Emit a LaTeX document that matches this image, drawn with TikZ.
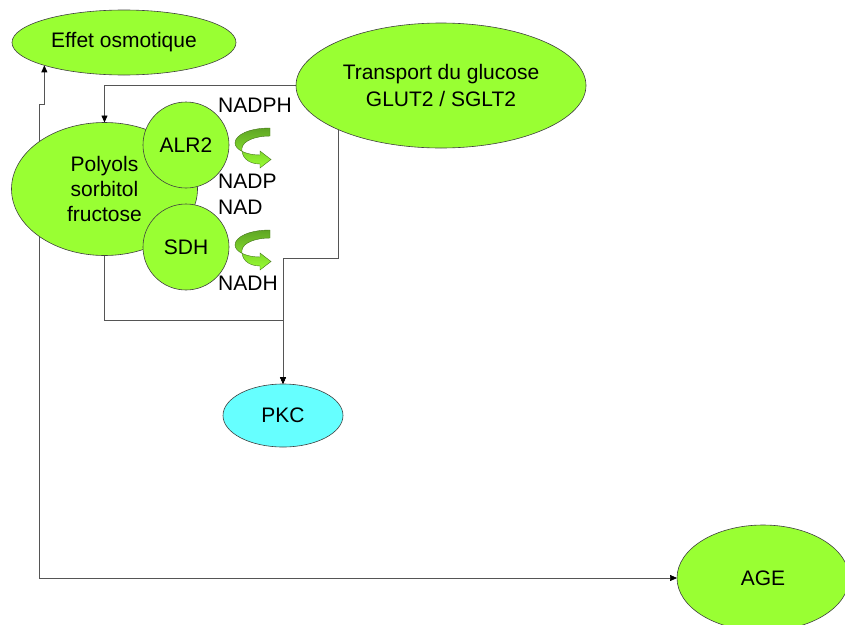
\documentclass[tikz,border=0pt]{standalone}
\usepackage{fontspec}
\setmainfont{Liberation Sans}
\usetikzlibrary{arrows.meta,shapes.geometric,backgrounds}
\definecolor{lime}{HTML}{99FF33}
\definecolor{cyanf}{HTML}{66FFFF}
\definecolor{linec}{HTML}{555555}
\definecolor{darkg}{HTML}{5FA524}
\newcommand\diagfont{\fontsize{21}{26}\selectfont}
\begin{document}
\begin{tikzpicture}[x=1pt,y=-1pt,
  blob/.style={ellipse, draw=black!75, line width=0.6pt, fill=lime, inner sep=0pt, outer sep=0pt, align=center, font=\diagfont},
  disc/.style={circle, draw=black!75, line width=0.6pt, fill=lime, inner sep=0pt, outer sep=0pt, minimum size=86pt, font=\diagfont},
  lbl/.style={anchor=west, inner sep=0pt, font=\diagfont},
  conn/.style={draw=linec, line width=0.7pt, -{Triangle[length=7pt,width=6pt,color=black]}},
  curvarr/.pic={
    \draw[draw=darkg!70!black, line width=0.4pt, top color=darkg, bottom color=lime]
      (35,0) .. controls (14,0) and (0,7) .. (0,15)
      .. controls (0,22) and (12,27) .. (25,27) -- (25,23) -- (36,31.5) -- (25,40) -- (25,36)
      .. controls (12,36) and (6,28) .. (7,20)
      .. controls (8,13) and (20,8) .. (35,8) -- cycle;
  }
]
\useasboundingbox (0,0) rectangle (845,624);

\node[blob, minimum width=224pt, minimum height=65pt] (effet) at (124,42.5) {Effet osmotique};
\node[blob, font=\fontsize{21}{27}\selectfont, minimum width=290pt, minimum height=125pt] (trans) at (441,85.5) {Transport du glucose\\GLUT2 / SGLT2};
\node[blob, font=\fontsize{21}{25}\selectfont, minimum width=186pt, minimum height=133pt] (poly) at (104.5,189) {Polyols\\sorbitol\\fructose};
\node[disc] (alr) at (186,145) {ALR2};
\node[disc] (sdh) at (186,247) {SDH};
\node[blob, fill=cyanf, minimum width=120pt, minimum height=63pt] (pkc) at (283,415.5) {PKC};
\node[blob, minimum width=172pt, minimum height=106pt] (age) at (763,578) {AGE};

\node[lbl] (nadph) at (218,105) {NADPH};
\node[lbl] (nadp) at (218,181) {NADP};
\node[lbl] (nad) at (218,207) {NAD};
\node[lbl] (nadh) at (218,283) {NADH};

\pic at (235,128) {curvarr};
\pic at (235,230) {curvarr};

\begin{scope}[on background layer]
  \coordinate (j1) at (39,104);
  \coordinate (j3) at (39,578);
  \coordinate (t1) at (338,100);
  \coordinate (m1) at (283,258);
  \coordinate (m2) at (283,320);
  \draw[conn] (poly.center) -| (j1) -| (effet.196);
  \draw[conn] (poly.center) -| (j3) -- (age.west);
  \draw[conn] (trans.west) -| (poly.north);
  \draw[conn] (t1) |- (m1) -- (pkc.north);
  \draw[conn] (poly.south) |- (m2) -- (pkc.north);
\end{scope}
\end{tikzpicture}
\end{document}
